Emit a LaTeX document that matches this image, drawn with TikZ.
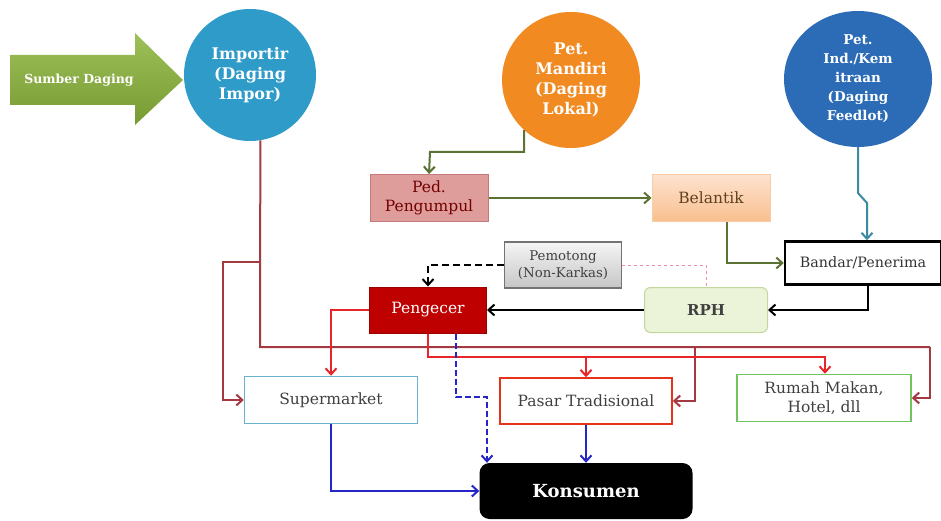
\documentclass[tikz,border=0pt]{standalone}
\usepackage{fontspec}
\setmainfont{DejaVu Serif}
\usetikzlibrary{arrows.meta,calc,shapes.geometric}
\definecolor{impblue}{HTML}{2E9BC9}
\definecolor{orng}{HTML}{F28A22}
\definecolor{indblue}{HTML}{2C6CB6}
\definecolor{sgreen}{HTML}{8DB53C}
\definecolor{olive}{HTML}{5B7232}
\definecolor{dred}{HTML}{A33A42}
\definecolor{bred}{HTML}{E8262A}
\definecolor{blu}{HTML}{2626C8}
\definecolor{tealc}{HTML}{3A8BA0}
\definecolor{pinkfill}{HTML}{DE9C9B}
\definecolor{pinkdraw}{HTML}{C47A7A}
\definecolor{txtdark}{HTML}{404040}
\definecolor{rphfill}{HTML}{EBF3D8}
\definecolor{rphdraw}{HTML}{C3D69B}
\definecolor{beltop}{HTML}{FDE3CF}
\definecolor{belbot}{HTML}{F9BF8F}
\definecolor{pinkdash}{HTML}{F08CB4}
\begin{document}
\begin{tikzpicture}[x=1pt,y=-1pt,
  >={Straight Barb[length=6pt,width=11pt]},
  circ/.style={ellipse,text=white,align=center,font=\fontsize{16}{20}\selectfont\bfseries,inner sep=0pt},
  box/.style={rectangle,align=center,font=\fontsize{15.5}{18.5}\selectfont,inner sep=1pt,text=txtdark},
  conn/.style={line width=2pt,->},
  plain/.style={line width=2pt}]
\useasboundingbox (0,0) rectangle (941,521);
% Sumber Daging arrow
\path[top color=sgreen!85!white,bottom color=sgreen!85!black]
  (10,55) -- (135,55) -- (135,33) -- (183,80) -- (135,125) -- (135,105) -- (10,105) -- cycle;
\node[text=white,font=\fontsize{12.5}{14}\selectfont\bfseries] (src) at (79,80) {Sumber Daging};
% circles
\node[circ,fill=impblue,minimum width=132,minimum height=132] (imp) at (250,75) {Importir\\(Daging\\Impor)};
\node[circ,fill=orng,minimum width=138,minimum height=136] (mandiri) at (571,80) {Pet.\\Mandiri\\(Daging\\Lokal)};
\node[circ,fill=indblue,minimum width=148,minimum height=136,font=\fontsize{13.5}{19}\selectfont\bfseries] (ind) at (858,79) {Pet.\\Ind./Kem\\itraan\\(Daging\\Feedlot)};
% boxes
\node[box,fill=pinkfill,draw=pinkdraw,line width=1pt,minimum width=118,minimum height=47,text={red!45!black}] (pengumpul) at (429,198) {Ped.\\Pengumpul};
\node[box,top color=beltop,bottom color=belbot,draw=belbot!80!white,line width=1pt,minimum width=118,minimum height=47,text={brown!50!black}] (belantik) at (711,198) {Belantik};
\node[box,fill=white,draw=black,line width=2.5pt,minimum width=156,minimum height=43,text=black!80,font=\fontsize{14.3}{18}\selectfont] (bandar) at (863,263) {Bandar/Penerima};
\node[box,top color=gray!8,bottom color=gray!45,draw=gray!90!black,line width=1.2pt,minimum width=117,minimum height=46,font=\fontsize{13.3}{17.5}\selectfont] (pemotong) at (563,265) {Pemotong\\(Non-Karkas)};
\node[box,fill=rphfill,draw=rphdraw,rounded corners=6pt,line width=1pt,minimum width=123,minimum height=45,font=\fontsize{15}{18}\selectfont\bfseries] (rph) at (706,310) {RPH};
\node[box,fill={red!75!black},draw={red!60!black},line width=1pt,minimum width=117,minimum height=46,text=white,font=\fontsize{15.5}{18}\selectfont] (pengecer) at (428,310) {Pengecer};
\node[box,draw={cyan!50!teal!70!white},line width=1.5pt,minimum width=173,minimum height=47] (supermarket) at (331,400) {Supermarket};
\node[box,draw={red!60!brown},line width=1.5pt,minimum width=172,minimum height=46] (pasar) at (586,401) {Pasar Tradisional};
\node[box,draw={green!40!olive!70!white},line width=1.5pt,minimum width=174,minimum height=47] (rumah) at (824,398) {Rumah Makan,\\Hotel, dll};
\node[box,fill=black,rounded corners=10pt,minimum width=213,minimum height=56,text=white,font=\fontsize{18}{20}\selectfont\bfseries] (konsumen) at (586,491) {Konsumen};
% coordinates
\coordinate (m1) at (430,152);
\coordinate (t1) at (858,193);
\coordinate (t2) at (867,203);
\coordinate (d1) at (260,262);
\coordinate (d2) at (260,347);
\coordinate (d3) at (930,347);
\coordinate (d4) at (695,347);
\coordinate (d5) at (223,262);
\coordinate (r1) at (428,357);
\coordinate (r2) at (825,357);
\coordinate (r3) at (586,357);
\coordinate (b1) at (456,397);
\coordinate (b2) at (487,397);
% olive connectors
\draw[conn,olive] (mandiri.-133) |- (m1) -- (pengumpul.north);
\draw[conn,olive] (pengumpul.east) -- (belantik.west);
\draw[conn,olive] ($(belantik.south)+(16,0)$) |- (bandar.west);
% teal
\draw[conn,tealc] (ind.south) -- (t1) -- (t2) -- ($(bandar.north)+(4,0)$);
% black
\draw[conn,black] ($(bandar.south)+(5,0)$) |- (rph.east);
\draw[conn,black] (rph.west) -- (pengecer.east);
\draw[line width=1pt,dashed,pinkdash] (pemotong.east) -| (rph.north);
\draw[conn,black,dash pattern=on 7pt off 4pt] (pemotong.west) -| (pengecer.north);
% dark red from Importir
\draw[plain,dred] (imp.-81) -- (d2) -- (d3);
\draw[conn,dred] (d3) |- (rumah.east);
\draw[conn,dred] (d1) -- (d5) |- (supermarket.west);
\draw[conn,dred] (d4) |- (pasar.east);
% red from Pengecer
\draw[conn,bred] (pengecer.west) -| (supermarket.north);
\draw[conn,bred] (pengecer.south) -- (r1) -- (r2) -- (rumah.north -| r2);
\draw[conn,bred] (r3) -- (pasar.north);
% blue
\draw[conn,blu,dash pattern=on 6pt off 3pt] ($(pengecer.south)+(28,0)$) -- (b1) -- (b2) -- (konsumen.north -| b2);
\draw[conn,blu] (supermarket.south) |- (konsumen.west);
\draw[conn,blu] (pasar.south) -- (konsumen.north);
\end{tikzpicture}
\end{document}
